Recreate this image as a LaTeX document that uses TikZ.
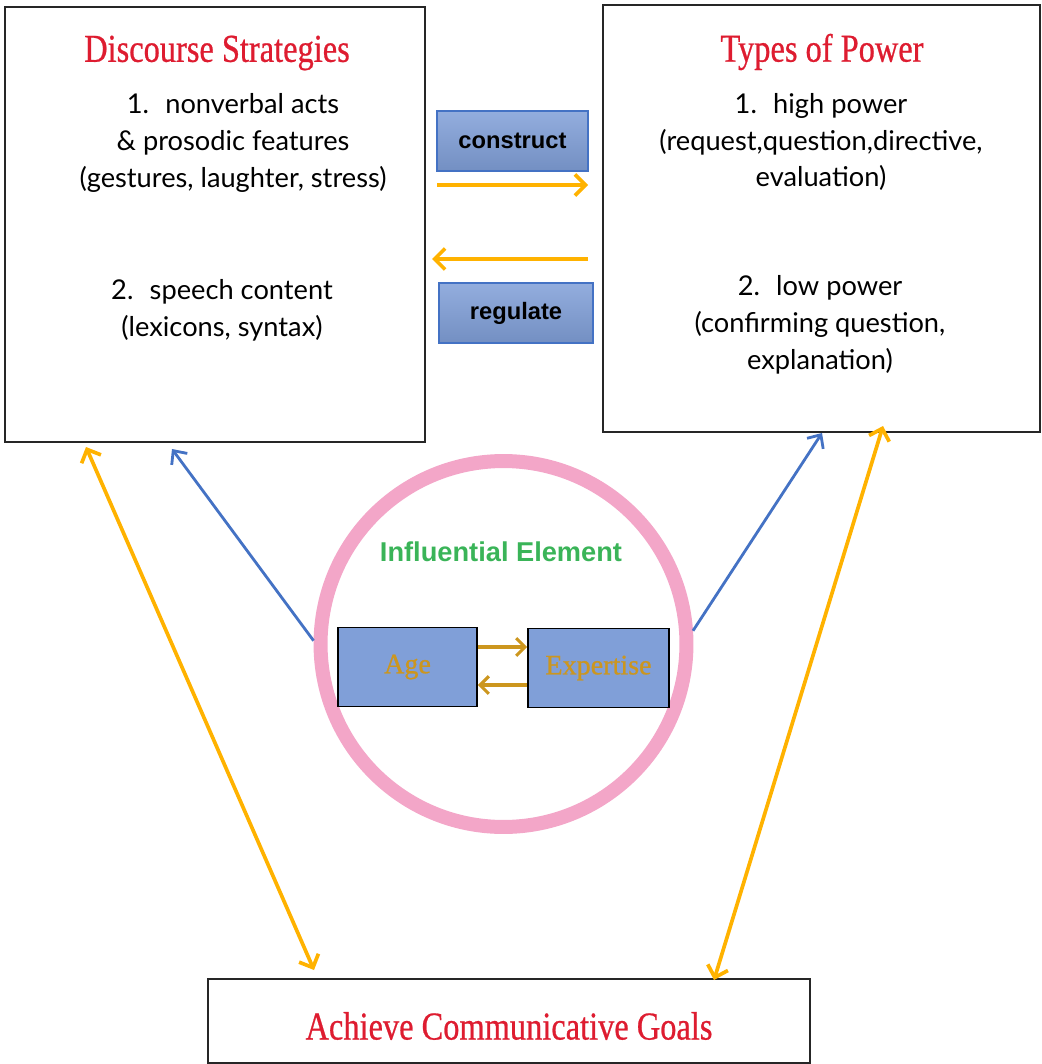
\documentclass[tikz,border=0pt]{standalone}
\usepackage{fontspec}
\usepackage{tikz}
\usetikzlibrary{arrows.meta}
\setmainfont{Liberation Serif}
\newfontfamily\headfont[FakeStretch=0.82,FakeBold=0.6]{Liberation Serif}
\newfontfamily\elemfont[FakeBold=0.8]{Liberation Serif}
\newfontfamily\bodyfont{Lato}
\newfontfamily\labelfont{Liberation Sans}
\definecolor{headred}{RGB}{222,28,48}
\definecolor{linkorange}{RGB}{255,178,0}
\definecolor{linkblue}{RGB}{68,114,196}
\definecolor{ringpink}{RGB}{243,166,200}
\definecolor{boxblue}{RGB}{128,159,216}
\definecolor{agegold}{RGB}{204,150,30}
\definecolor{inflgreen}{RGB}{58,180,88}

\begin{document}
\begin{tikzpicture}[x=0.02cm,y=-0.02cm,
    bigbox/.style={draw=black!85,line width=0.9pt,fill=white},
    head/.style={text=headred,font=\headfont\fontsize{22.5}{26}\selectfont},
    item/.style={align=center,font=\bodyfont\fontsize{15.5}{21}\selectfont},
    verbbox/.style={draw=linkblue,line width=0.7pt,top color=boxblue!85!white,bottom color=boxblue!90!black,
        minimum height=1.2cm,font=\labelfont\bfseries\fontsize{13.5}{15}\selectfont},
    elembox/.style={draw=black,line width=0.9pt,fill=boxblue,minimum height=1.58cm,
        text=agegold,font=\elemfont\fontsize{16}{18}\selectfont},
    orangelink/.style={draw=linkorange,line width=2.1pt,arrows={-Straight Barb[length=6pt,width=12pt]}},
    bluelink/.style={draw=linkblue,line width=1.6pt,arrows={-Straight Barb[length=6pt,width=11pt]}},
    goldlink/.style={draw=agegold,line width=1.8pt,arrows={-Straight Barb[length=5pt,width=10pt]}}]
    \useasboundingbox (0,0) rectangle (1041,1064);

    \node[bigbox,minimum width=8.4cm,minimum height=8.7cm] (ds) at (215,224.5) {};
    \node[bigbox,minimum width=8.74cm,minimum height=8.54cm] (tp) at (821.5,218.5) {};
    \node[bigbox,minimum width=12.04cm,minimum height=1.68cm] (goal) at (509,1021) {};

    \node[head] (dstitle) at (217,53) {Discourse Strategies};
    \node[item] (dsone) at (233,143) {1.~ nonverbal acts\\ \& prosodic features\\(gestures, laughter, stress)};
    \node[item] (dstwo) at (222,310) {2.~ speech content\\(lexicons, syntax)};

    \node[head] (tptitle) at (822,52) {Types of Power};
    \node[item] (tpone) at (821,142) {1.~ high power\\(request,question,directive,\\evaluation)};
    \node[item] (tptwo) at (820,325) {2.~ low power\\(confirming question,\\explanation)};

    \node[head] (goaltext) at (509,1026) {Achieve Communicative Goals};

    \node[verbbox,minimum width=3.02cm] (cons) at (512.5,141) {construct};
    \node[verbbox,minimum width=3.08cm] (reg) at (516,313) {regulate};
    \coordinate (consa) at (437,185);
    \coordinate (consb) at (588,185);
    \coordinate (rega) at (588,259);
    \coordinate (regb) at (432,259);
    \draw[orangelink] (consa) -- (consb);
    \draw[orangelink] (rega) -- (regb);

    \node[circle,draw=ringpink,line width=0.28cm,minimum size=7.32cm] (infl) at (503.5,644) {};
    \node[text=inflgreen,font=\labelfont\bfseries\fontsize{15.5}{18}\selectfont] (infltitle) at (501,552) {Influential Element};
    \node[elembox,minimum width=2.78cm] (age) at (407.5,667) {Age};
    \node[elembox,minimum width=2.82cm] (exp) at (598.5,668) {Expertise};
    \draw[goldlink] (age.east |- 0,647) -- (exp.west |- 0,647);
    \draw[goldlink] (exp.west |- 0,685) -- (age.east |- 0,685);

    \coordinate (dsfoot) at (172,449);
    \coordinate (tpfoot) at (822,433);
    \draw[bluelink] (infl.179) -- (dsfoot);
    \draw[bluelink] (infl.4) -- (tpfoot);

    \coordinate (dsleft) at (86,447);
    \coordinate (goalleft) at (314,970);
    \coordinate (tpright) at (883,426);
    \coordinate (goalright) at (714,980);
    \draw[orangelink,arrows={Straight Barb[length=6pt,width=12pt]-Straight Barb[length=6pt,width=12pt]}] (dsleft) -- (goalleft);
    \draw[orangelink,arrows={Straight Barb[length=6pt,width=12pt]-Straight Barb[length=6pt,width=12pt]}] (tpright) -- (goalright);
\end{tikzpicture}
\end{document}
